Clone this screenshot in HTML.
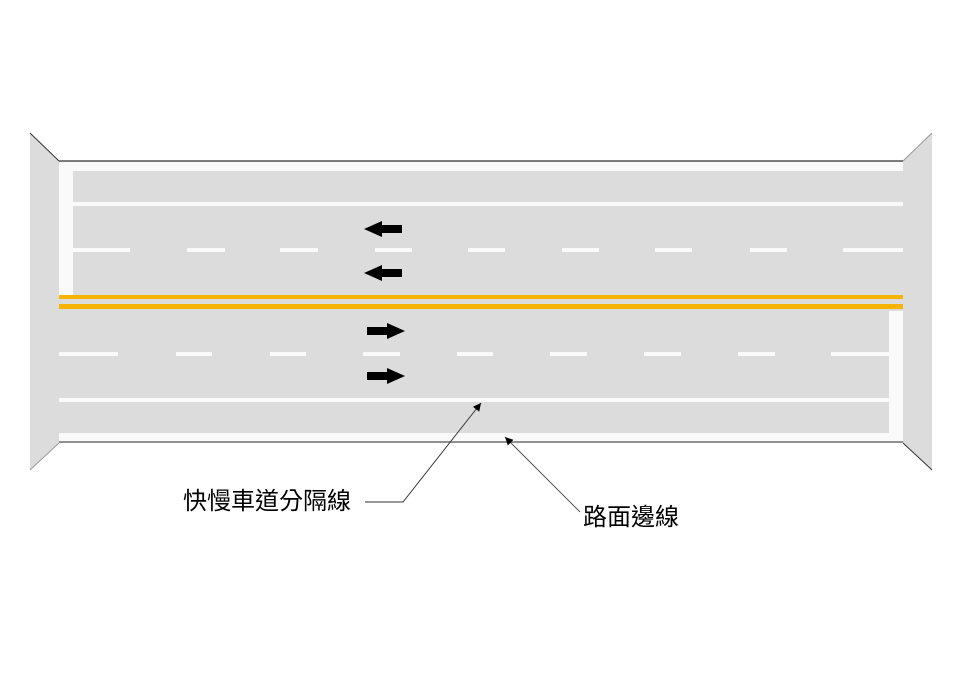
<!DOCTYPE html>
<html><head><meta charset="utf-8"><style>
html,body{margin:0;padding:0;background:#fff;}
svg{display:block;}
text{font-family:"Liberation Sans","Noto Sans CJK TC",sans-serif;font-size:24px;fill:#000;}
</style></head><body>
<svg width="963" height="681" viewBox="0 0 963 681" xmlns="http://www.w3.org/2000/svg">
<defs>
<marker id="ah" viewBox="0 0 10 10" refX="10" refY="5" markerWidth="8" markerHeight="8" orient="auto-start-reverse" markerUnits="userSpaceOnUse">
<path d="M0,0 L10,5 L0,10 z" fill="#000"/></marker>
</defs>
<!-- side panels -->
<polygon points="30,133 59,161 59,443 30,470" fill="#dcdcdc"/>
<polygon points="932,133 903,161 903,443 932,470" fill="#dcdcdc"/>
<line x1="30" y1="133" x2="59" y2="161" stroke="#333" stroke-width="1"/>
<line x1="903" y1="443" x2="932" y2="470" stroke="#333" stroke-width="1"/>
<line x1="59" y1="443" x2="30" y2="470" stroke="#999" stroke-width="1"/>
<line x1="903" y1="161" x2="932" y2="133" stroke="#999" stroke-width="1"/>
<!-- road -->
<rect x="59" y="161" width="844" height="282" fill="#dcdcdc"/>
<line x1="59" y1="161" x2="903" y2="161" stroke="#555" stroke-width="1.5"/>
<line x1="59" y1="442" x2="903" y2="442" stroke="#777" stroke-width="1.5"/>
<!-- top white -->
<rect x="59" y="162" width="844" height="9" fill="#fafafa"/>
<rect x="59" y="162" width="14" height="133" fill="#fafafa"/>
<rect x="73" y="202" width="830" height="4" fill="#fafafa"/>
<!-- top dashes -->
<g fill="#fafafa">
<rect x="73" y="248" width="57" height="4"/>
<rect x="187" y="248" width="38" height="4"/>
<rect x="280" y="248" width="38" height="4"/>
<rect x="375" y="248" width="37" height="4"/>
<rect x="468" y="248" width="37" height="4"/>
<rect x="562" y="248" width="37" height="4"/>
<rect x="655" y="248" width="37" height="4"/>
<rect x="750" y="248" width="37" height="4"/>
<rect x="843" y="248" width="60" height="4"/>
</g>
<!-- yellow -->
<rect x="59" y="295" width="844" height="4" fill="#f6b300"/>
<rect x="59" y="304" width="844" height="5" fill="#f6b300"/>
<!-- bottom white -->
<rect x="889" y="311" width="14" height="129" fill="#fafafa"/>
<rect x="59" y="433" width="844" height="8" fill="#fafafa"/>
<rect x="59" y="398" width="830" height="4" fill="#fafafa"/>
<g fill="#fafafa">
<rect x="59" y="352" width="59" height="4"/>
<rect x="176" y="352" width="36" height="4"/>
<rect x="270" y="352" width="36" height="4"/>
<rect x="363" y="352" width="37" height="4"/>
<rect x="457" y="352" width="36" height="4"/>
<rect x="550" y="352" width="37" height="4"/>
<rect x="644" y="352" width="37" height="4"/>
<rect x="738" y="352" width="37" height="4"/>
<rect x="831" y="352" width="58" height="4"/>
</g>
<!-- arrows -->
<g fill="#000">
<polygon points="364,229 382,221 382,225 402,225 402,233 382,233 382,237"/>
<polygon points="364,273 382,265 382,269 402,269 402,277 382,277 382,281"/>
<polygon points="405,331 387,323 387,327 367,327 367,335 387,335 387,339"/>
<polygon points="405,376 387,368 387,372 367,372 367,380 387,380 387,384"/>
</g>
<!-- leaders -->
<polyline points="365,502 403,502 481,403" fill="none" stroke="#333" stroke-width="1" marker-end="url(#ah)"/>
<line x1="580" y1="512" x2="505" y2="437" stroke="#555" stroke-width="1" marker-end="url(#ah)"/>
<text x="183" y="509">快慢車道分隔線</text>
<text x="583" y="525">路面邊線</text>
</svg>
</body></html>
